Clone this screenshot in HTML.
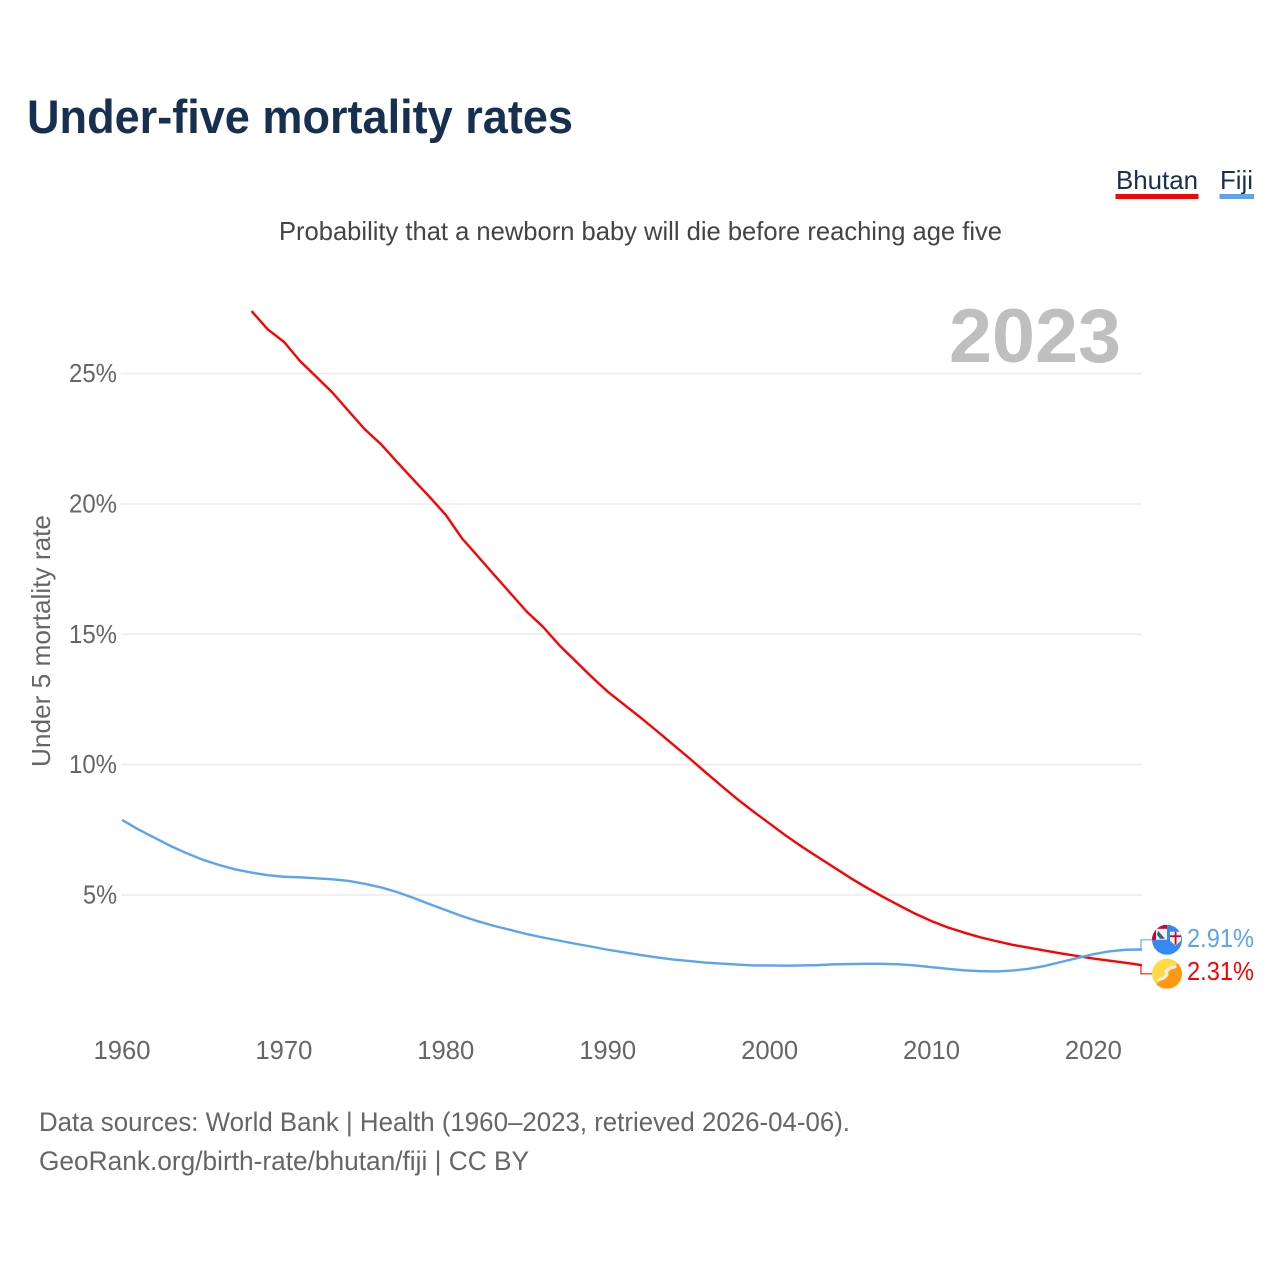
<!DOCTYPE html>
<html lang="en">
<head>
<meta charset="utf-8">
<title>Under-five mortality rates</title>
<style>
html,body{margin:0;padding:0;background:#fff;width:1280px;height:1280px;overflow:hidden}
svg{display:block}
text{font-family:"Liberation Sans",sans-serif}
</style>
</head>
<body>
<svg id="chart" xmlns="http://www.w3.org/2000/svg" width="1280" height="1280" viewBox="0 0 1280 1280">
  <defs>
    <clipPath id="flag-clip-top"><circle cx="1167" cy="0" r="15" id="clip-top"/></clipPath>
    <clipPath id="flag-clip-bottom"><circle cx="1167" cy="0" r="15" id="clip-bottom"/></clipPath>
  </defs>
  <rect x="0" y="0" width="1280" height="1280" fill="#fff"/>
  <text x="27" y="133" font-size="47" font-weight="700" fill="#17304f" textLength="546" lengthAdjust="spacingAndGlyphs">Under-five mortality rates</text>

  <g>
    <g>
      <text x="1116" y="189" font-size="26" fill="#17304f" textLength="82" lengthAdjust="spacingAndGlyphs">Bhutan</text>
      <rect x="1115.5" y="194" width="83" height="5" fill="#ff0000"/>
    </g>
    <g>
      <text x="1220" y="189" font-size="26" fill="#17304f" textLength="33" lengthAdjust="spacingAndGlyphs">Fiji</text>
      <rect x="1219.5" y="194" width="34.5" height="5" fill="#5ba4ee"/>
    </g>
  </g>

  <text x="279" y="240" font-size="26" fill="#444" textLength="723" lengthAdjust="spacingAndGlyphs">Probability that a newborn baby will die before reaching age five</text>

  <g id="grid"></g>
  <g id="ylabels"></g>
  <g id="xlabels"></g>

  <text x="949" y="362" font-size="76" font-weight="700" fill="#bfbfbf" textLength="172" lengthAdjust="spacingAndGlyphs">2023</text>

  <text transform="translate(50,767) rotate(-90)" x="0" y="0" font-size="26" fill="#666" textLength="252" lengthAdjust="spacingAndGlyphs">Under 5 mortality rate</text>

  <g id="series"></g>
  <g id="ends"></g>

  <text x="39" y="1131" font-size="27" fill="#666" textLength="811" lengthAdjust="spacingAndGlyphs">Data sources: World Bank | Health (1960–2023, retrieved 2026-04-06).</text>
  <text x="39" y="1170" font-size="27" fill="#666" textLength="490" lengthAdjust="spacingAndGlyphs">GeoRank.org/birth-rate/bhutan/fiji | CC BY</text>
</svg>
<script>
const years = [1960,1961,1962,1963,1964,1965,1966,1967,1968,1969,1970,1971,1972,1973,1974,1975,1976,1977,1978,1979,1980,1981,1982,1983,1984,1985,1986,1987,1988,1989,1990,1991,1992,1993,1994,1995,1996,1997,1998,1999,2000,2001,2002,2003,2004,2005,2006,2007,2008,2009,2010,2011,2012,2013,2014,2015,2016,2017,2018,2019,2020,2021,2022,2023];
const bhutanValues = [null,null,null,null,null,null,null,null,27.4,26.7,26.22,25.48,24.88,24.27,23.56,22.86,22.29,21.6,20.93,20.27,19.58,18.68,17.98,17.27,16.57,15.87,15.29,14.59,13.98,13.37,12.8,12.31,11.82,11.31,10.79,10.27,9.73,9.2,8.68,8.2,7.74,7.28,6.85,6.45,6.05,5.65,5.28,4.93,4.6,4.28,4.0,3.76,3.56,3.38,3.23,3.09,2.98,2.87,2.76,2.66,2.56,2.48,2.4,2.31];
const fijiValues = [7.88,7.52,7.2,6.88,6.6,6.35,6.15,5.98,5.86,5.76,5.7,5.68,5.64,5.6,5.54,5.43,5.29,5.11,4.89,4.65,4.42,4.19,3.99,3.81,3.66,3.5,3.37,3.25,3.13,3.02,2.9,2.8,2.7,2.61,2.53,2.47,2.41,2.37,2.33,2.3,2.3,2.29,2.3,2.31,2.34,2.35,2.36,2.36,2.34,2.3,2.23,2.17,2.11,2.08,2.07,2.1,2.17,2.28,2.43,2.58,2.73,2.84,2.9,2.91];
const yTicks = [5,10,15,20,25];
const xTicks = [1960,1970,1980,1990,2000,2010,2020];

const NS = 'http://www.w3.org/2000/svg';
const xScale = function (year) { return 122 + (year - 1960) * 16.19; };
const yScale = function (value) { return 895 - (value - 5) * 26.07; };
function make(tag, parent, attrs) {
  const el = document.createElementNS(NS, tag);
  for (const k in attrs) el.setAttribute(k, attrs[k]);
  parent.appendChild(el);
  return el;
}

const grid = document.getElementById('grid');
const ylabels = document.getElementById('ylabels');
const xlabels = document.getElementById('xlabels');
yTicks.forEach(function (t) {
  const line = make('line', grid, {x1: 121, x2: 1142, y1: yScale(t), y2: yScale(t), stroke: '#ececec', 'stroke-width': 1.5});
  
  
  const label = t + '%';
  const lab = make('text', ylabels, {x: 117, y: yScale(t) + 8.5, 'font-size': 26, fill: '#666', 'text-anchor': 'end', textLength: label.length === 3 ? 48 : 34, lengthAdjust: 'spacingAndGlyphs'});
  lab.textContent = label;
  
  
});
xTicks.forEach(function (t) {
  const lab = make('text', xlabels, {x: xScale(t) - 28.5, y: 1059, 'font-size': 26, fill: '#666', textLength: 57, lengthAdjust: 'spacingAndGlyphs'});
  lab.textContent = String(t);
  
  
});

function linePath(values) {
  let d = '';
  values.forEach(function (v, i) {
    if (v === null) return;
    d += (d ? 'L' : 'M') + xScale(years[i]).toFixed(2) + ' ' + yScale(v).toFixed(2);
  });
  return d;
}
const seriesGroup = document.getElementById('series');
const bhutanLine = make('path', seriesGroup, {d: linePath(bhutanValues), fill: 'none', stroke: '#ff0000', 'stroke-width': 2.4, 'stroke-linejoin': 'round'});


const fijiLine = make('path', seriesGroup, {d: linePath(fijiValues), fill: 'none', stroke: '#5ba4ee', 'stroke-width': 2.4, 'stroke-linejoin': 'round'});



/* end labels: pushed apart around their midpoint, as in the reference */
const lastF = fijiValues[fijiValues.length - 1];
const lastB = bhutanValues[bhutanValues.length - 1];
const mid = (yScale(lastF) + yScale(lastB)) / 2;
const upper = mid - 17.5;
const lower = mid + 16.5;
const fY = lastF >= lastB ? upper : lower;
const bY = lastF >= lastB ? lower : upper;
const endX = xScale(2023) - 1;
const ends = document.getElementById('ends');

const fConn = make('path', ends, {d: 'M' + endX + ' ' + yScale(lastF) + 'V' + fY + 'H1154', fill: 'none', stroke: '#5ba4ee', 'stroke-width': 1.2, opacity: 0.9});


const bConn = make('path', ends, {d: 'M' + endX + ' ' + yScale(lastB) + 'V' + bY + 'H1154', fill: 'none', stroke: '#ff0000', 'stroke-width': 1.2, opacity: 0.9});



document.getElementById('clip-top').setAttribute('cy', fY);
document.getElementById('clip-bottom').setAttribute('cy', bY);

/* Fiji flag badge */
const fj = make('g', ends, {'clip-path': 'url(#flag-clip-top)', transform: 'translate(0,0)'});


make('rect', fj, {x: 1152, y: fY - 15, width: 30, height: 30, fill: '#338af3'});
make('rect', fj, {x: 1152, y: fY - 15, width: 15, height: 15, fill: '#d80027'});
make('rect', fj, {x: 1156, y: fY - 11, width: 11, height: 11, fill: '#eef3f8'});
make('path', fj, {d: 'M1158 ' + (fY - 9) + 'L1165 ' + (fY - 1) + 'H1160L1157 ' + (fY - 5) + 'Z', fill: '#2a5f9e'});
make('path', fj, {d: 'M1170 ' + (fY - 8) + 'H1181V' + (fY + 1) + 'L1175.5 ' + (fY + 6) + 'L1170 ' + (fY + 1) + 'Z', fill: '#f3f3f3'});
make('rect', fj, {x: 1174.7, y: fY - 8, width: 1.8, height: 13, fill: '#d80027'});
make('rect', fj, {x: 1170, y: fY - 4.5, width: 11, height: 1.8, fill: '#d80027'});

/* Bhutan flag badge */
const bt = make('g', ends, {'clip-path': 'url(#flag-clip-bottom)'});


make('rect', bt, {x: 1152, y: bY - 15, width: 30, height: 30, fill: '#ffda44'});
make('path', bt, {d: 'M1182 ' + (bY - 15) + 'V' + (bY + 15) + 'H1152Z', fill: '#ff9811'});
make('path', bt, {d: 'M1159 ' + (bY + 6) + 'L1164 ' + (bY + 4) + 'L1167 ' + (bY + 1) + 'L1166 ' + (bY - 3) + 'L1171 ' + (bY - 6) + 'L1175 ' + (bY - 7), fill: 'none', stroke: '#f4ece0', 'stroke-width': 3.2, 'stroke-linejoin': 'round', 'stroke-linecap': 'round'});

const fLab = make('text', ends, {x: 1187, y: fY + 7, 'font-size': 26, fill: '#5ba4ee', textLength: 67, lengthAdjust: 'spacingAndGlyphs'});
fLab.textContent = lastF.toFixed(2) + '%';


const bLab = make('text', ends, {x: 1187, y: bY + 6, 'font-size': 26, fill: '#ff0000', textLength: 67, lengthAdjust: 'spacingAndGlyphs'});
bLab.textContent = lastB.toFixed(2) + '%';


</script>
</body>
</html>
